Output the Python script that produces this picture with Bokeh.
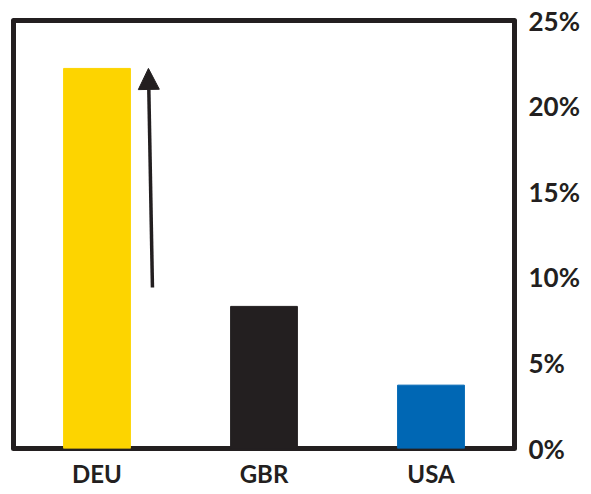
from bokeh.plotting import figure
from bokeh.models import ColumnDataSource, FixedTicker, Arrow, NormalHead, LinearAxis, Range1d
from bokeh.embed import file_html
from bokeh.resources import INLINE

categories = ["DEU", "GBR", "USA"]
values = [22.2, 8.3, 3.7]
colors = ["#FDD400", "#231F20", "#0067B4"]
y_ticks = [0, 5, 10, 15, 20, 25]
y_tick_labels = ["0%", "5%", "10%", "15%", "20%", "25%"]
arrow_x = [0.832, 0.808]
arrow_y = [9.4, 22.2]

pos = [i + 0.5 for i in range(len(categories))]
src = ColumnDataSource(dict(x=pos, top=values, color=colors))

p = figure(width=582, height=490, output_backend="svg", toolbar_location=None,
           x_range=Range1d(0, 3), y_range=Range1d(0, 25), y_axis_location=None,
           min_border_left=13, min_border_top=20, min_border_right=68, min_border_bottom=39)
p.vbar(x="x", top="top", bottom=0, width=0.4, color="color", source=src)

p.outline_line_color = "#231F20"
p.outline_line_width = 5
p.outline_line_join = "round"
p.grid.visible = False
p.background_fill_color = "white"
p.border_fill_color = "white"

FONT = "Lato"
xa = p.xaxis[0]
xa.ticker = FixedTicker(ticks=pos)
xa.major_label_overrides = {v: c for v, c in zip(pos, categories)}
xa.axis_line_color = None
xa.major_tick_line_color = None
xa.minor_tick_line_color = None
xa.major_label_text_font = FONT
xa.major_label_text_font_style = "bold"
xa.major_label_text_font_size = "24px"
xa.major_label_text_color = "#231F20"
xa.major_label_standoff = 4

ya = LinearAxis(ticker=FixedTicker(ticks=y_ticks),
                major_label_overrides={v: l for v, l in zip(y_ticks, y_tick_labels)})
ya.axis_line_color = None
ya.major_tick_line_color = None
ya.minor_tick_line_color = None
ya.major_label_text_font = FONT
ya.major_label_text_font_style = "bold"
ya.major_label_text_font_size = "26px"
ya.major_label_text_color = "#231F20"
ya.major_label_standoff = 8
p.add_layout(ya, "right")

p.add_layout(Arrow(x_start=arrow_x[0], y_start=arrow_y[0], x_end=arrow_x[1], y_end=arrow_y[1],
                   line_color="#231F20", line_width=3.5,
                   end=NormalHead(size=21, fill_color="#231F20", line_color="#231F20", line_width=1)))

open("out.html", "w").write(file_html(p, INLINE))
